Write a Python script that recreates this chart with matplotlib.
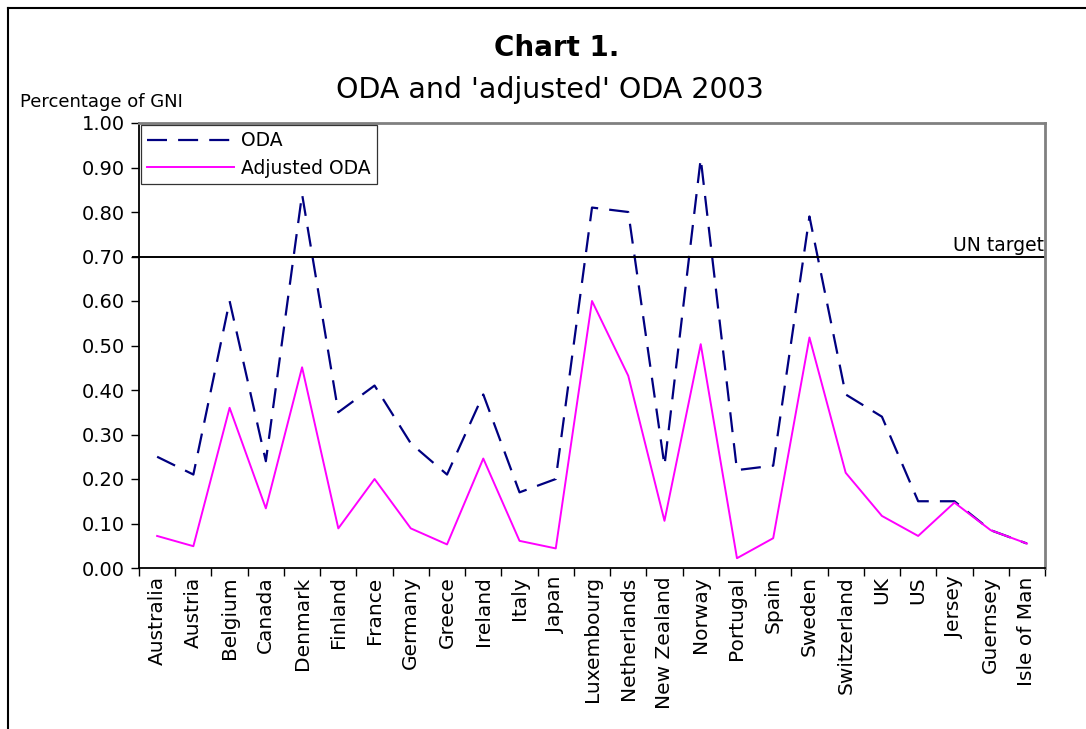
import matplotlib.pyplot as plt
import numpy as np
from matplotlib.lines import Line2D

countries = ["Australia", "Austria", "Belgium", "Canada", "Denmark", "Finland",
             "France", "Germany", "Greece", "Ireland", "Italy", "Japan",
             "Luxembourg", "Netherlands", "New Zealand", "Norway", "Portugal",
             "Spain", "Sweden", "Switzerland", "UK", "US", "Jersey", "Guernsey",
             "Isle of Man"]
oda = [0.25, 0.21, 0.60, 0.24, 0.84, 0.35, 0.41, 0.28, 0.21, 0.39, 0.17, 0.20,
       0.81, 0.80, 0.23, 0.92, 0.22, 0.23, 0.79, 0.39, 0.34, 0.15, 0.15, 0.085,
       0.055]
adjusted = [0.072, 0.049, 0.36, 0.134, 0.451, 0.089, 0.20, 0.089, 0.053, 0.246,
            0.061, 0.044, 0.60, 0.432, 0.106, 0.503, 0.022, 0.067, 0.518, 0.214,
            0.117, 0.072, 0.147, 0.085, 0.055]
un_target = 0.70
yticks = [0.0, 0.1, 0.2, 0.3, 0.4, 0.5, 0.6, 0.7, 0.8, 0.9, 1.0]

W, H = 1086, 729
fig = plt.figure(figsize=(W / 100, H / 100), dpi=100)
plt.rcParams['font.family'] = ['DejaVu Sans']

# plot area in pixel coords
x0, x1, ytop, ybot = 139, 1045, 123, 568
ax = fig.add_axes([x0 / W, 1 - ybot / H, (x1 - x0) / W, (ybot - ytop) / H])

x = np.arange(len(countries))
ax.plot(x, oda, color='#000080', linestyle=(0, (9, 5)), linewidth=1.6, label='ODA')
ax.plot(x, adjusted, color='#FF00FF', linewidth=1.4, label='Adjusted ODA')
ax.axhline(un_target, color='black', linewidth=1.4, xmin=-0.007, clip_on=False)
ax.text(len(countries) - 0.52, un_target + 0.003, "UN target", ha='right', va='bottom',
        fontsize=13.5)

ax.set_xlim(-0.5, len(countries) - 0.5)
ax.set_ylim(0, 1.0)
ax.set_yticks(yticks)
ax.set_yticklabels([f"{v:.2f}" for v in yticks], fontsize=14)
ax.set_xticks(x)
ax.set_xticklabels(countries, rotation=90, fontsize=14.5)
ax.set_xticks(np.arange(-0.5, len(countries)), minor=True)
ax.tick_params(axis='x', which='major', length=0, pad=6)
ax.tick_params(axis='x', which='minor', length=6, direction='out', width=1)
ax.tick_params(axis='y', length=6, direction='out', width=1, pad=4)

ax.spines['left'].set_color('black')
ax.spines['bottom'].set_color('black')
ax.spines['top'].set_color('#808080')
ax.spines['right'].set_color('#808080')
for s in ax.spines.values():
    s.set_linewidth(1.3)
ax.spines['top'].set_linewidth(2)
ax.spines['right'].set_linewidth(2)

leg = ax.legend(loc='upper left', bbox_to_anchor=(0.0, 1.0), fontsize=13.5,
                frameon=True, fancybox=False, borderaxespad=0.1,
                handlelength=4.6, labelspacing=0.45, borderpad=0.35,
                handletextpad=0.4)
leg.get_frame().set_edgecolor('black')
leg.get_frame().set_linewidth(0.9)

fig.text(557 / W, 1 - 48 / H, "Chart 1.", ha='center', va='center', fontsize=20,
         fontweight='bold')
fig.text(550 / W, 1 - 90 / H, "ODA and 'adjusted' ODA 2003", ha='center', va='center',
         fontsize=20.5)
fig.text(20 / W, 1 - 102 / H, "Percentage of GNI", ha='left', va='center', fontsize=13)

# outer chart border (top and left visible)
fig.add_artist(Line2D([8 / W, 1.0], [1 - 8 / H, 1 - 8 / H], color='black', linewidth=1.5))
fig.add_artist(Line2D([8 / W, 8 / W], [1 - 8 / H, 0.0], color='black', linewidth=1.5))

fig.savefig('out.png', dpi=100)
